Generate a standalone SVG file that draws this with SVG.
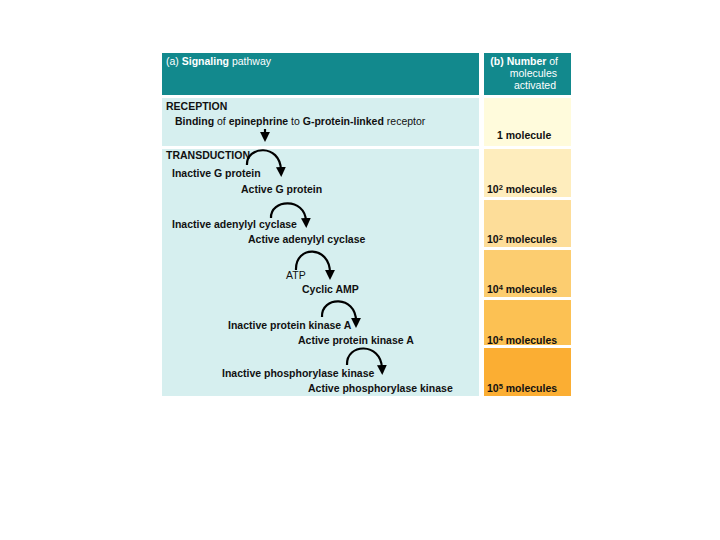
<svg xmlns="http://www.w3.org/2000/svg" width="720" height="540" viewBox="0 0 720 540">
<style>
.t{font-family:"Liberation Sans",Arial,sans-serif;font-size:10.5px;fill:#111}
.b{font-weight:bold}
.w{fill:#fff}
.arc{fill:none;stroke:#000;stroke-width:2.2;marker-end:url(#ah)}
</style>
<defs>
<marker id="ah" viewBox="0 0 10 10" refX="3" refY="5" markerWidth="4.5" markerHeight="4.5" orient="auto" markerUnits="strokeWidth">
<path d="M0,0 L10,5 L0,10 Z" fill="#000"/>
</marker>
</defs>
<rect width="720" height="540" fill="#fff"/>
<g id="header-a">
<rect x="162" y="53" width="317" height="42" fill="#12898d"/>
<text class="t w" x="166" y="65">(a) <tspan class="b">Signaling</tspan> pathway</text>
</g>
<g id="header-b">
<rect x="484" y="53" width="87" height="42" fill="#12898d"/>
<text class="t w" text-anchor="end" x="558" y="65"><tspan class="b">(b) Number</tspan> of</text>
<text class="t w" text-anchor="end" x="557" y="77">molecules</text>
<text class="t w" text-anchor="end" x="556" y="89">activated</text>
</g>
<g id="reception">
<rect x="162" y="98" width="317" height="48" fill="#d6efef"/>
<text class="t b" x="166" y="110">RECEPTION</text>
<text class="t" x="175" y="125"><tspan class="b">Binding</tspan> of <tspan class="b">epinephrine</tspan> to <tspan class="b">G-protein-linked</tspan> receptor</text>
</g>
<g id="transduction">
<rect x="162" y="149" width="317" height="247" fill="#d6efef"/>
<text class="t b" x="166" y="159">TRANSDUCTION</text>
<text class="t b" x="172" y="177">Inactive G protein</text>
<text class="t b" x="241" y="193">Active G protein</text>
<text class="t b" x="172" y="228">Inactive adenylyl cyclase</text>
<text class="t b" x="248" y="243">Active adenylyl cyclase</text>
<text class="t" x="286" y="279">ATP</text>
<text class="t b" x="302" y="293">Cyclic AMP</text>
<text class="t b" x="228" y="329">Inactive protein kinase A</text>
<text class="t b" x="298" y="344">Active protein kinase A</text>
<text class="t b" x="222" y="377">Inactive phosphorylase kinase</text>
<text class="t b" x="308" y="392">Active phosphorylase kinase</text>
</g>
<g id="counts">
<rect x="484" y="98" width="87" height="48" fill="#fffbdc"/>
<text class="t b" x="497" y="139">1 molecule</text>
<rect x="484" y="149" width="87" height="48" fill="#feedbd"/>
<text class="t b" x="487" y="193">10<tspan dy="-3.5" font-size="7.5">2</tspan><tspan dy="3.5"> molecules</tspan></text>
<rect x="484" y="200" width="87" height="47" fill="#fddd99"/>
<text class="t b" x="487" y="243">10<tspan dy="-3.5" font-size="7.5">2</tspan><tspan dy="3.5"> molecules</tspan></text>
<rect x="484" y="250" width="87" height="47" fill="#fccd70"/>
<text class="t b" x="487" y="293">10<tspan dy="-3.5" font-size="7.5">4</tspan><tspan dy="3.5"> molecules</tspan></text>
<rect x="484" y="300" width="87" height="45" fill="#fcc153"/>
<text class="t b" x="487" y="344">10<tspan dy="-3.5" font-size="7.5">4</tspan><tspan dy="3.5"> molecules</tspan></text>
<rect x="484" y="348" width="87" height="48" fill="#fbae33"/>
<text class="t b" x="487" y="392">10<tspan dy="-3.5" font-size="7.5">5</tspan><tspan dy="3.5"> molecules</tspan></text>
</g>
<g id="connectors">
<path class="arc" d="M265,129 L265,135"/>
<path class="arc" d="M247,165 C246,146 280,143 281,170"/>
<path class="arc" d="M271,218 C270,199 305,197 306,221"/>
<path class="arc" d="M296,270 C295,245 330,245 330,273"/>
<path class="arc" d="M322,317 C321,296 356,295 356,321"/>
<path class="arc" d="M347,365 C346,343 381,342 382,368"/>
</g>
</svg>
